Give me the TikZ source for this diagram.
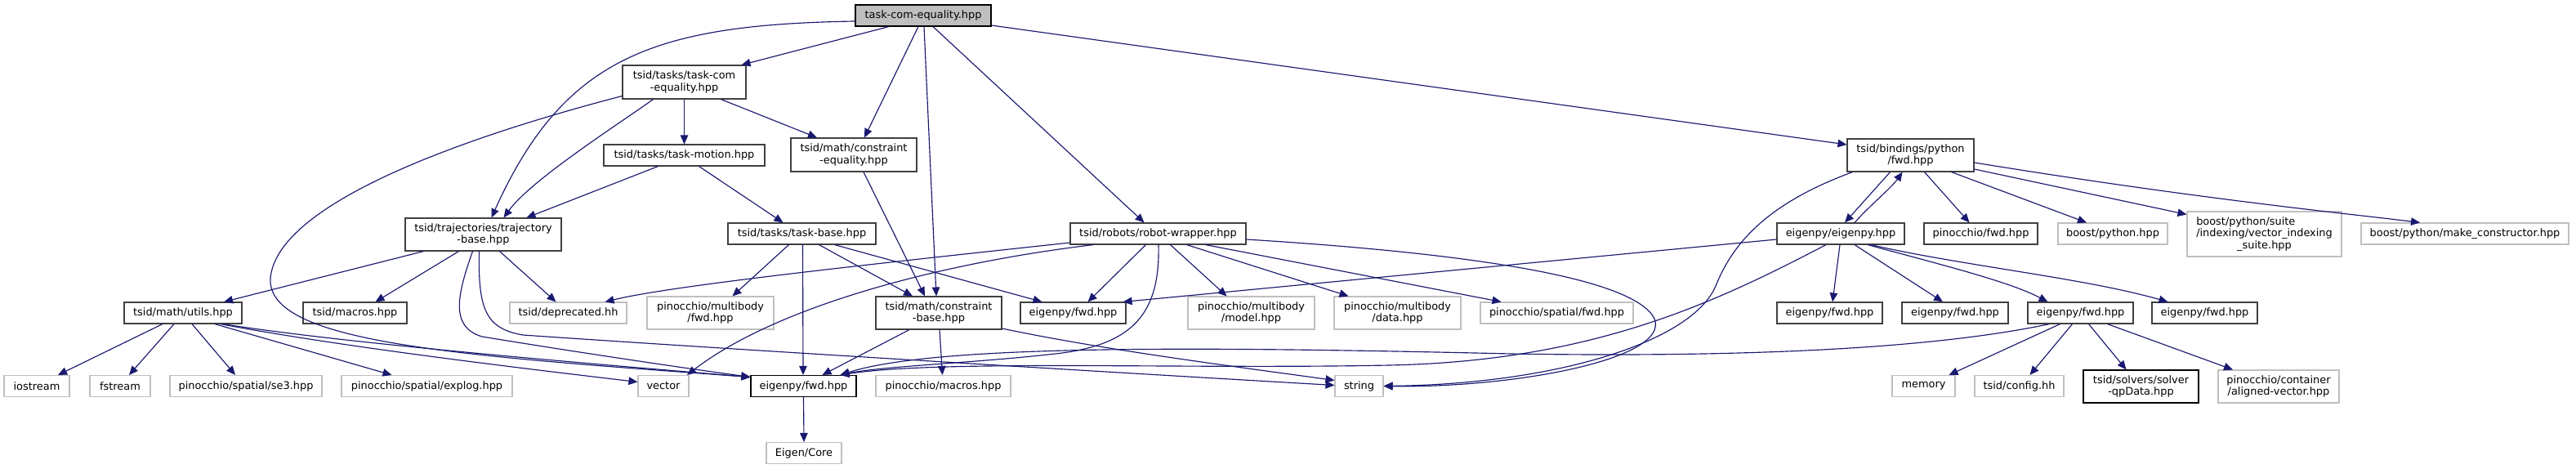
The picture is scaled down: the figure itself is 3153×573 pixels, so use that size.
\documentclass[tikz,border=0pt]{standalone}
\usepackage{fontspec}
\setmainfont{DejaVu Sans}
\usetikzlibrary{arrows.meta,calc}
\definecolor{edgec}{RGB}{25,25,112}
\definecolor{grayb}{RGB}{191,191,191}
\definecolor{darkb}{RGB}{64,64,64}
\begin{document}
\begin{tikzpicture}[x=1pt,y=-1pt,
 nb/.style={draw=darkb,line width=1.1pt,fill=white,inner sep=0pt,align=center,font=\fontsize{12.9}{14.4}\selectfont,minimum height=26pt},
 ng/.style={nb,draw=grayb},
 two/.style={minimum height=40pt},
 e/.style={draw=edgec,line width=1.15pt,-{Triangle[length=11pt,width=9.5pt]}}]
\useasboundingbox[fill=white] (0,0) rectangle (3153,573);
% row 0
\node[nb,draw=black,fill=grayb,minimum width=166pt] (top) at (1130,19) {task-com-equality.hpp};
% row 1
\node[nb,two,minimum width=151pt,minimum height=41pt] (tce) at (837.5,100.5) {tsid/tasks/task-com\\-equality.hpp};
% row 2
\node[nb,minimum width=197pt] (tm) at (837.5,190) {tsid/tasks/task-motion.hpp};
\node[nb,two,minimum width=154pt,minimum height=41pt] (ceq) at (1045,189.5) {tsid/math/constraint\\-equality.hpp};
\node[nb,two,minimum width=155pt] (bpf) at (2338.5,190) {tsid/bindings/python\\/fwd.hpp};
% row 3
\node[nb,two,minimum width=191pt] (traj) at (591.5,287) {tsid/trajectories/trajectory\\-base.hpp};
\node[nb,minimum width=181pt] (tb) at (981.5,286) {tsid/tasks/task-base.hpp};
\node[nb,minimum width=215pt] (rw) at (1417.5,286) {tsid/robots/robot-wrapper.hpp};
\node[nb,minimum width=156pt] (eph) at (2253,286) {eigenpy/eigenpy.hpp};
\node[nb,minimum width=139pt] (pfwd) at (2424.5,286) {pinocchio/fwd.hpp};
\node[ng,minimum width=134pt] (bpy) at (2586,286) {boost/python.hpp};
\node[ng,minimum width=189pt,minimum height=55pt] (vis) at (2771.5,286.5) {\rlap{boost/python/suite}\phantom{/indexing/vector\_indexing}\\/indexing/vector\_indexing\\\_suite.hpp};
\node[ng,minimum width=254pt] (mc) at (3017,286) {boost/python/make\_constructor.hpp};
% row 4
\node[nb,minimum width=144pt] (utils) at (224,383) {tsid/math/utils.hpp};
\node[nb,minimum width=127pt] (macros) at (434.5,383) {tsid/macros.hpp};
\node[ng,minimum width=143pt] (depr) at (695.5,383) {tsid/deprecated.hh};
\node[ng,two,minimum width=155pt] (pmfwd) at (869.5,383) {pinocchio/multibody\\/fwd.hpp};
\node[nb,two,minimum width=154pt] (cbase) at (1149,383) {tsid/math/constraint\\-base.hpp};
\node[nb,minimum width=129pt] (ef1) at (1313.5,383) {eigenpy/fwd.hpp};
\node[ng,two,minimum width=155pt] (model) at (1531.5,383) {pinocchio/multibody\\/model.hpp};
\node[ng,two,minimum width=155pt] (data) at (1710.5,383) {pinocchio/multibody\\/data.hpp};
\node[ng,minimum width=187pt] (sfwd) at (1905.5,383) {pinocchio/spatial/fwd.hpp};
\node[nb,minimum width=129pt] (ef2) at (2239.5,383) {eigenpy/fwd.hpp};
\node[nb,minimum width=130pt] (efB) at (2393,383) {eigenpy/fwd.hpp};
\node[nb,minimum width=129pt] (ef3) at (2546.5,383) {eigenpy/fwd.hpp};
\node[nb,minimum width=129pt] (ef4) at (2698.5,383) {eigenpy/fwd.hpp};
% row 5
\node[ng,minimum width=80pt] (iostream) at (45,472.5) {iostream};
\node[ng,minimum width=74pt] (fstream) at (147,472.5) {fstream};
\node[ng,minimum width=186pt] (se3) at (301,472.5) {pinocchio/spatial/se3.hpp};
\node[ng,minimum width=209pt] (explog) at (522.5,472.5) {pinocchio/spatial/explog.hpp};
\node[ng,minimum width=62pt] (vector) at (812,472.5) {vector};
\node[nb,draw=black,minimum width=129pt] (efb) at (983.5,472.5) {eigenpy/fwd.hpp};
\node[ng,minimum width=165pt] (pmacros) at (1154.5,472.5) {pinocchio/macros.hpp};
\node[ng,minimum width=59pt] (string) at (1663.5,472.5) {string};
\node[ng,minimum width=77pt] (memory) at (2354.5,472.5) {memory};
\node[ng,minimum width=109pt] (config) at (2471.5,472.5) {tsid/config.hh};
\node[nb,draw=black,two,minimum width=141pt] (qp) at (2620.5,473) {tsid/solvers/solver\\-qpData.hpp};
\node[ng,two,minimum width=148pt] (av) at (2789,473) {pinocchio/container\\/aligned-vector.hpp};
% row 6
\node[ng,minimum width=92pt] (core) at (984,554.5) {Eigen/Core};

% edges from top
\draw[e] ($(top.south)+(-42,0)$) -- ($(tce.north)+(70,0)$);
\draw[e] ($(top.west)+(0,7)$) .. controls (800,30) and (690,70) .. ($(traj.north)+(10,0)$);
\draw[e] ($(top.south)+(-6,0)$) -- ($(ceq.north)+(13,0)$);
\draw[e] ($(top.south)+(1,0)$) -- ($(cbase.north)+(-3,0)$);
\draw[e] ($(top.south)+(12,0)$) -- ($(rw.north)+(-17,0)$);
\draw[e] ($(top.east)+(0,12)$) -- ($(bpf.west)+(0,-13)$);
% tce
\draw[e] ($(tce.south)+(-38,0)$) .. controls (760,150) and (650,220) .. ($(traj.north)+(25,0)$);
\draw[e] (tce.south) -- (tm.north);
\draw[e] ($(tce.south)+(45,0)$) -- ($(ceq.north)+(-45,0)$);
\draw[e] ($(tce.west)+(0,17)$) .. controls (560,170) and (340,250) .. (331,340) .. controls (325,420) and (560,435) .. ($(efb.west)+(0,-11)$);
% tm
\draw[e] ($(tm.south)+(-32,0)$) -- ($(traj.north)+(53,0)$);
\draw[e] ($(tm.south)+(18,0)$) -- ($(tb.north)+(-23,0)$);
% ceq
\draw[e] ($(ceq.south)+(12,0)$) -- ($(cbase.north)+(-17,0)$);
% traj
\draw[e] ($(traj.south)+(-73,0)$) -- ($(utils.north)+(50,0)$);
\draw[e] ($(traj.south)+(-30,0)$) -- ($(macros.north)+(25,0)$);
\draw[e] ($(traj.south)+(20,0)$) -- ($(depr.north)+(-15,0)$);
\draw[e] ($(traj.south)+(-13,0)$) .. controls (560,360) and (550,400) .. (590,412) .. controls (700,430) and (820,448) .. ($(efb.west)+(0,-11)$);
\draw[e] ($(traj.south)+(-5,0)$) .. controls (585,380) and (595,402) .. (640,410) .. controls (900,428) and (1400,458) .. ($(string.west)+(0,-1)$);
% utils
\draw[e] ($(utils.south)+(-25,0)$) -- ($(iostream.north)+(26,0)$);
\draw[e] ($(utils.south)+(-11,0)$) -- ($(fstream.north)+(11,0)$);
\draw[e] ($(utils.south)+(11,0)$) -- ($(se3.north)+(-13,0)$);
\draw[e] ($(utils.south)+(39,0)$) -- ($(explog.north)+(-43,0)$);
\draw[e] ($(utils.south)+(46,0)$) .. controls (420,425) and (650,452) .. ($(vector.west)+(0,-5)$);
\draw[e] ($(utils.south)+(49,0)$) .. controls (420,420) and (720,445) .. ($(efb.west)+(0,-11)$);
% tb
\draw[e] ($(tb.south)+(-16,0)$) -- ($(pmfwd.north)+(27,0)$);
\draw[e] ($(tb.south)+(1,0)$) -- ($(efb.north)+(-0.5,0)$);
\draw[e] ($(tb.south)+(21,0)$) -- ($(cbase.north)+(-32,0)$);
\draw[e] ($(tb.south)+(40,0)$) -- ($(ef1.north)+(-38,0)$);
% cbase
\draw[e] ($(cbase.south)+(-36,0)$) -- ($(efb.north)+(23,0)$);
\draw[e] ($(cbase.south)+(1,0)$) -- ($(pmacros.north)+(-1,0)$);
\draw[e] ($(cbase.east)+(0,19)$) .. controls (1350,428) and (1500,447) .. ($(string.west)+(0,-7)$);
% rw
\draw[e] ($(rw.west)+(0,11)$) .. controls (1050,325) and (820,350) .. ($(depr.north)+(45,0)$);
\draw[e] ($(rw.south)+(-79,0)$) .. controls (1150,322) and (950,375) .. ($(vector.north)+(29,0)$);
\draw[e] ($(rw.south)+(-15,0)$) -- ($(ef1.north)+(18,0)$);
\draw[e] ($(rw.south)+(0.5,0)$) .. controls (1420,380) and (1390,420) .. (1300,432) .. controls (1200,444) and (1080,448) .. ($(efb.north)+(45,0)$);
\draw[e] ($(rw.south)+(15,0)$) -- ($(model.north)+(-30,0)$);
\draw[e] ($(rw.south)+(35,0)$) -- ($(data.north)+(-60,0)$);
\draw[e] ($(rw.south)+(58,0)$) -- ($(sfwd.north)+(-68,0)$);
\draw[e] ($(rw.east)+(0,7)$) .. controls (1800,310) and (2000,340) .. (2025,390) .. controls (2045,440) and (1850,475) .. (string.east);
% bpf
\draw[e] ($(bpf.south)+(-25,0)$) -- ($(eph.north)+(5,0)$);
\draw[e] ($(eph.north)+(17,0)$) .. controls (2290,250) and (2315,230) .. ($(bpf.south)+(-10,0)$);
\draw[e] ($(bpf.south)+(-71,0)$) .. controls (2160,250) and (2120,300) .. (2100,350) .. controls (2070,420) and (1900,470) .. (string.east);
\draw[e] ($(bpf.south)+(17,0)$) -- ($(pfwd.north)+(-14,0)$);
\draw[e] ($(bpf.south)+(50,0)$) -- ($(bpy.north)+(-32,0)$);
\draw[e] ($(bpf.east)+(0,17)$) -- ($(vis.west)+(0,-24)$);
\draw[e] ($(bpf.east)+(0,9)$) .. controls (2700,245) and (2880,262) .. ($(mc.north)+(-55,0)$);
% eph
\draw[e] ($(eph.south)+(-18,0)$) .. controls (2100,370) and (1950,442) .. (1700,447) .. controls (1450,452) and (1150,440) .. ($(efb.north)+(45,0)$);
\draw[e] ($(eph.west)+(0,7)$) -- ($(ef1.north east)+(-4,0)$);
\draw[e] ($(eph.south)+(-1,0)$) -- ($(ef2.north)+(3.5,0)$);
\draw[e] ($(eph.south)+(17,0)$) -- ($(efB.north)+(-15,0)$);
\draw[e] ($(eph.south)+(33,0)$) .. controls (2380,325) and (2460,345) .. ($(ef3.north)+(-40,0)$);
\draw[e] ($(eph.south)+(37,0)$) .. controls (2400,325) and (2550,340) .. ($(ef4.north)+(-45,0)$);
% ef3
\draw[e] ($(ef3.south)+(-38,0)$) .. controls (2350,430) and (2100,437) .. (1850,433) .. controls (1500,425) and (1150,420) .. ($(efb.north)+(45,0)$);
\draw[e] ($(ef3.south)+(-25,0)$) -- ($(memory.north)+(31,0)$);
\draw[e] ($(ef3.south)+(-10,0)$) -- ($(config.north)+(13,0)$);
\draw[e] ($(ef3.south)+(10,0)$) -- ($(qp.north)+(-18,0)$);
\draw[e] ($(ef3.south)+(33,0)$) -- ($(av.north)+(-56,0)$);
% efb
\draw[e] (efb.south) -- (core.north);
\end{tikzpicture}
\end{document}
